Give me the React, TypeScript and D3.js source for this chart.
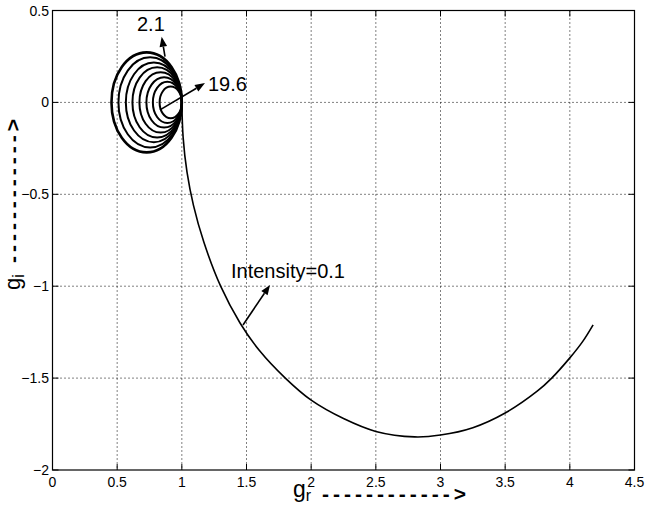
import * as d3 from 'd3';

// axis ticks
const xTicks = [0, 0.5, 1, 1.5, 2, 2.5, 3, 3.5, 4, 4.5];
const yTicks = [-2, -1.5, -1, -0.5, 0, 0.5];

// high-intensity loops (2.1 ... 19.6): left edge on the g_r axis, right edge at the tangent point
const loopIntensity = [2.1, 4.6, 7.1, 9.6, 12.1, 14.6, 17.1, 19.6];
const loopLeft = [0.456, 0.51, 0.567, 0.618, 0.672, 0.726, 0.776, 0.828];
const loopRight = [1.0, 1.0, 1.0, 1.0, 1.0, 1.0, 1.0, 1.0];

// Intensity = 0.1 trajectory
const lowX = [1.0, 1.01, 1.04, 1.09, 1.17, 1.3, 1.45, 1.6, 1.8, 2.0, 2.25, 2.5, 2.8, 3.0, 3.25, 3.5, 3.75, 3.86, 4.0, 4.1, 4.18];
const lowY = [0, -0.19, -0.38, -0.56, -0.76, -1.0, -1.2, -1.35, -1.5, -1.62, -1.72, -1.79, -1.82, -1.81, -1.77, -1.69, -1.57, -1.5, -1.39, -1.3, -1.21];

// annotations: [label, textX, textY, tailX, tailY, headX, headY]
const notes: [string, number, number, number, number, number, number][] = [
  ['2.1', 0.653, 0.388, 0.87, 0.249, 0.844, 0.357],
  ['19.6', 1.202, 0.062, 0.831, -0.041, 1.179, 0.105],
  ['Intensity=0.1', 1.38, -0.955, 1.473, -1.211, 1.682, -0.993],
];

const FONT = '"Liberation Sans", Arial, Helvetica, sans-serif';

function Arrow({ x1, y1, x2, y2 }: { x1: number; y1: number; x2: number; y2: number }) {
  const dx = x2 - x1;
  const dy = y2 - y1;
  const len = Math.hypot(dx, dy);
  const ux = dx / len;
  const uy = dy / len;
  const hl = 10;
  const hw = 3.8;
  const bx = x2 - ux * hl;
  const by = y2 - uy * hl;
  const pts = [
    [x2, y2],
    [bx - uy * hw, by + ux * hw],
    [bx + uy * hw, by - ux * hw],
  ];
  return (
    <g>
      <line x1={x1} y1={y1} x2={bx} y2={by} stroke="#000" strokeWidth={1.6} />
      <polygon points={pts.map((p) => p.join(',')).join(' ')} fill="#000" />
    </g>
  );
}

export default function App() {
  const W = 647;
  const H = 506;
  const left = 52.5;
  const right = 634.5;
  const top = 10.5;
  const bottom = 470;

  const x = d3.scaleLinear().domain([0, 4.5]).range([left, right]);
  const y = d3.scaleLinear().domain([-2, 0.5]).range([bottom, top]);

  const lowPath = d3
    .line<number>()
    .x((_, i) => x(lowX[i]))
    .y((_, i) => y(lowY[i]))
    .curve(d3.curveCatmullRom.alpha(0.5))(lowX.map((_, i) => i));

  const tick = 6;

  return (
    <svg
      width={W}
      height={H}
      style={{ position: 'absolute', left: 0, top: 0, background: '#fff' }}
      fontFamily={FONT}
    >
      <rect width={W} height={H} fill="#fff" />

      {/* grid */}
      {xTicks.slice(1, -1).map((t) => (
        <line key={'gx' + t} x1={x(t)} x2={x(t)} y1={top} y2={bottom} stroke="#000" strokeWidth={1} strokeDasharray="1,3" />
      ))}
      {yTicks.slice(1, -1).map((t) => (
        <line key={'gy' + t} x1={left} x2={right} y1={y(t)} y2={y(t)} stroke="#000" strokeWidth={1} strokeDasharray="1,3" />
      ))}

      {/* loops */}
      {loopIntensity.map((v, i) => {
        const c = (loopLeft[i] + loopRight[i]) / 2;
        const r = (loopRight[i] - loopLeft[i]) / 2;
        return (
          <ellipse
            key={'loop' + v}
            cx={x(c)}
            cy={y(0)}
            rx={x(c + r) - x(c)}
            ry={y(0) - y(r)}
            fill="none"
            stroke="#000"
            strokeWidth={i === 0 ? 2.6 : 2}
          />
        );
      })}

      {/* low intensity trajectory */}
      <path d={lowPath ?? ''} fill="none" stroke="#000" strokeWidth={1.6} />

      {/* annotations */}
      {notes.map(([label, tx, ty, ax, ay, hx, hy]) => (
        <g key={label}>
          <Arrow x1={x(ax)} y1={y(ay)} x2={x(hx)} y2={y(hy)} />
          <text x={x(tx)} y={y(ty)} fontSize={20} fill="#000">
            {label}
          </text>
        </g>
      ))}

      {/* box */}
      <rect x={left} y={top} width={right - left} height={bottom - top} fill="none" stroke="#000" strokeWidth={1.2} />

      {/* ticks */}
      {xTicks.map((t) => (
        <g key={'tx' + t}>
          <line x1={x(t)} x2={x(t)} y1={bottom} y2={bottom - tick} stroke="#000" />
          <line x1={x(t)} x2={x(t)} y1={top} y2={top + tick} stroke="#000" />
          <text x={x(t)} y={487} fontSize={14} textAnchor="middle" fill="#000">
            {t}
          </text>
        </g>
      ))}
      {yTicks.map((t) => (
        <g key={'ty' + t}>
          <line x1={left} x2={left + tick} y1={y(t)} y2={y(t)} stroke="#000" />
          <line x1={right} x2={right - tick} y1={y(t)} y2={y(t)} stroke="#000" />
          <text x={49} y={y(t) + 5} fontSize={14} textAnchor="end" fill="#000">
            {t < 0 ? '\u2212' + Math.abs(t) : t}
          </text>
        </g>
      ))}

      {/* x label */}
      <text x={293} y={497} fontSize={23} fill="#000">
        g
        <tspan fontSize={16} dy={4}>r</tspan>
      </text>
      <text x={322} y={501} fontSize={21} fontWeight="bold" fill="#000" textLength={144} lengthAdjust="spacing">
        ------------&gt;
      </text>

      {/* y label */}
      <g transform="translate(20,290) rotate(-90)">
        <text x={0} y={0} fontSize={22} fill="#000">
          g
          <tspan fontSize={16} dy={4}>i</tspan>
        </text>
        <text x={27} y={0} fontSize={21} fontWeight="bold" fill="#000" textLength={144} lengthAdjust="spacing">
          ------------&gt;
        </text>
      </g>
    </svg>
  );
}
